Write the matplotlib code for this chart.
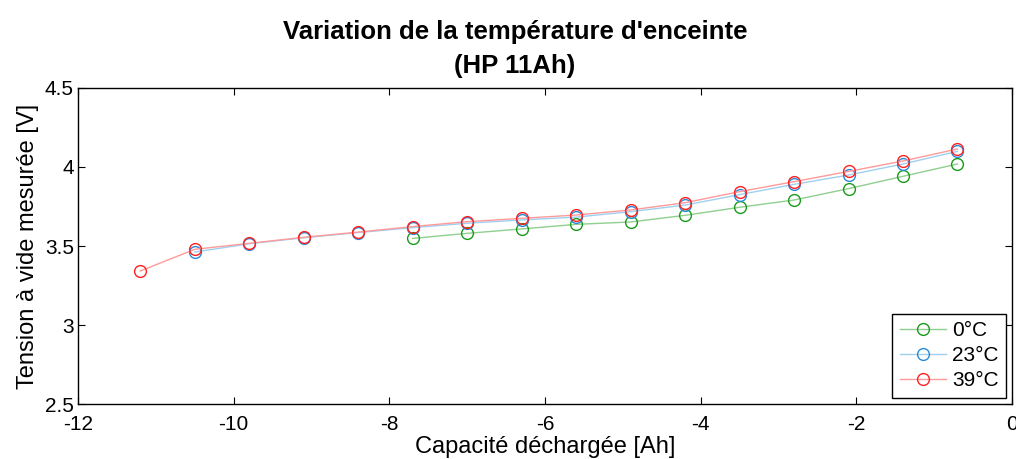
import matplotlib.pyplot as plt

plt.rcParams['font.family'] = ['Liberation Sans', 'DejaVu Sans']
plt.rcParams['axes.unicode_minus'] = False

# Données
x_0 = [-7.7, -7.0, -6.3, -5.6, -4.9, -4.2, -3.5, -2.8, -2.1, -1.4, -0.7]
v_0 = [3.548, 3.580, 3.608, 3.637, 3.652, 3.694, 3.745, 3.791, 3.863, 3.941, 4.019]

x_23 = [-10.5, -9.8, -9.1, -8.4, -7.7, -7.0, -6.3, -5.6, -4.9, -4.2, -3.5, -2.8, -2.1, -1.4, -0.7]
v_23 = [3.462, 3.514, 3.552, 3.585, 3.616, 3.644, 3.665, 3.683, 3.717, 3.759, 3.825, 3.890, 3.949, 4.019, 4.099]

x_39 = [-11.2, -10.5, -9.8, -9.1, -8.4, -7.7, -7.0, -6.3, -5.6, -4.9, -4.2, -3.5, -2.8, -2.1, -1.4, -0.7]
v_39 = [3.342, 3.479, 3.517, 3.555, 3.588, 3.623, 3.654, 3.675, 3.696, 3.728, 3.774, 3.844, 3.907, 3.972, 4.038, 4.114]

x_ticks = [-12, -10, -8, -6, -4, -2, 0]
y_ticks = [2.5, 3, 3.5, 4, 4.5]

fig = plt.figure(figsize=(10.16, 4.59), dpi=100)
ax = fig.add_axes([0.0768, 0.1198, 0.9192, 0.6885])

ax.plot(x_0, v_0, '-o', color='#8fcf8f', mec='#1a9a1a', mfc='none', ms=8.5, mew=1.0, lw=1.0, label='0°C')
ax.plot(x_23, v_23, '-o', color='#9fd0f0', mec='#2a8ad8', mfc='none', ms=8.5, mew=1.0, lw=1.0, label='23°C')
ax.plot(x_39, v_39, '-o', color='#ff9a9a', mec='#ff2020', mfc='none', ms=8.5, mew=1.0, lw=1.0, label='39°C')

ax.set_xlim(-12, 0)
ax.set_ylim(2.5, 4.5)
ax.set_xticks(x_ticks)
ax.set_yticks(y_ticks)
ax.set_yticklabels(['2.5', '3', '3.5', '4', '4.5'])
ax.tick_params(direction='in', top=True, right=True, labelsize=15, length=5, width=0.8)
ax.tick_params(axis='x', pad=8)
ax.tick_params(axis='y', pad=3)
for s in ax.spines.values():
    s.set_linewidth(1.0)

ax.set_xlabel('Capacité déchargée [Ah]', fontsize=17, labelpad=1)
ax.set_ylabel('Tension à vide mesurée [V]', fontsize=17, labelpad=4)
ax.set_title("Variation de la température d'enceinte\n(HP 11Ah)", fontsize=18.5, fontweight='bold',
             pad=11, linespacing=1.52, x=0.468)

leg = ax.legend(loc='lower right', fontsize=15, fancybox=False, edgecolor='black', framealpha=1,
                borderpad=0.35, labelspacing=0.3, handlelength=2.2, handletextpad=0.3, borderaxespad=0.3)
leg.get_frame().set_linewidth(1.0)

fig.savefig('out.png', dpi=100)
